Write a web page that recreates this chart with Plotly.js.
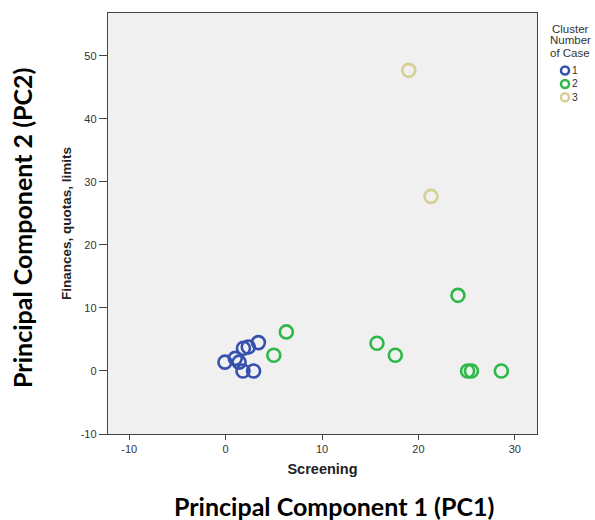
<!DOCTYPE html>
<html>
<head>
<meta charset="utf-8">
<script src="https://cdn.plot.ly/plotly-3.0.1.min.js"></script>
<style>html,body{margin:0;padding:0;background:#fff;}#chart{width:595px;height:520px;}</style>
</head>
<body>
<div id="chart"></div>
<script>
// Cluster 1
var c1x = [-0.07, 1.0, 1.4, 1.8, 2.9, 1.85, 2.35, 3.4];
var c1y = [1.4, 2.0, 1.4, 0.0, 0.0, 3.6, 3.8, 4.5];
// Cluster 2
var c2x = [5.0, 6.3, 15.7, 17.6, 24.1, 25.1, 25.5, 28.6];
var c2y = [2.5, 6.2, 4.4, 2.5, 12.0, 0.0, 0.0, 0.0];
// Cluster 3
var c3x = [19.0, 21.3];
var c3y = [47.7, 27.7];

var names = ['1', '2', '3'];
var legendTitle = ['Cluster', 'Number', 'of Case'];
var colors = ['#3650AE', '#2EB84A', '#D5CF96'];
var xTicks = [-10, 0, 10, 20, 30];
var yTicks = [-10, 0, 10, 20, 30, 40, 50];

var xs = [c1x, c2x, c3x], ys = [c1y, c2y, c3y];
var traces = [];
for (var i = 0; i < 3; i++) {
  traces.push({
    x: xs[i], y: ys[i], name: names[i], type: 'scatter', mode: 'markers', showlegend: false,
    marker: {symbol: 'circle-open', size: 13, color: colors[i], line: {width: 2.6, color: colors[i]}}
  });
}

var font = 'Liberation Sans, Arial, sans-serif';
var annotations = [
  {text: '<b>Principal Component 1 (PC1)</b>', xref: 'paper', yref: 'paper',
   x: 0.527, y: -0.17, xanchor: 'center', yanchor: 'middle', showarrow: false,
   font: {family: 'Lato, sans-serif', size: 25, color: '#000'}},
  {text: '<b>Principal Component 2 (PC2)</b>', xref: 'paper', yref: 'paper',
   x: -0.2, y: 0.49, xanchor: 'center', yanchor: 'middle', showarrow: false, textangle: -90,
   font: {family: 'Lato, sans-serif', size: 25, color: '#000'}}
];
var shapes = [];
// manual legend (title lines, symbols, labels)
var titleY = [0.963, 0.935, 0.906];
for (var t = 0; t < legendTitle.length; t++) {
  annotations.push({text: legendTitle[t], xref: 'paper', yref: 'paper', x: 1.077, y: titleY[t],
    xanchor: 'center', yanchor: 'middle', showarrow: false,
    font: {family: font, size: 11.5, color: '#333'}});
}
var itemY = [0.8634, 0.8314, 0.7998];
for (var k = 0; k < names.length; k++) {
  shapes.push({type: 'circle', xref: 'paper', yref: 'paper', xsizemode: 'pixel', ysizemode: 'pixel',
    xanchor: 1.0653, yanchor: itemY[k], x0: -4, x1: 4, y0: -4, y1: 4,
    line: {color: colors[k], width: 2.5}});
}
annotations.push({text: names.join('<br>'), xref: 'paper', yref: 'paper', x: 1.076, y: itemY[1],
  xanchor: 'left', yanchor: 'middle', align: 'left', showarrow: false,
  font: {family: font, size: 10.3, color: '#333'}});

var layout = {
  width: 595, height: 520,
  margin: {l: 108, r: 58, t: 13, b: 86, autoexpand: false},
  paper_bgcolor: '#ffffff',
  plot_bgcolor: '#f0f0f0',
  showlegend: false,
  xaxis: {
    range: [-12.2, 32.3], tickvals: xTicks, ticktext: xTicks.map(String),
    showgrid: false, zeroline: false,
    showline: true, linecolor: '#444', linewidth: 1.2, mirror: true,
    ticks: 'outside', ticklen: 5, tickcolor: '#444',
    tickfont: {family: font, size: 11, color: '#333'},
    title: {text: '<b>Screening</b>', font: {family: font, size: 14.5, color: '#222'}, standoff: 9}
  },
  yaxis: {
    range: [-10, 56.8], tickvals: yTicks, ticktext: yTicks.map(String),
    showgrid: false, zeroline: false,
    showline: true, linecolor: '#444', linewidth: 1.2, mirror: true,
    ticks: 'outside', ticklen: 8, tickcolor: '#444',
    tickfont: {family: font, size: 11, color: '#333'},
    title: {text: '<b>Finances, quotas, limits</b>', font: {family: font, size: 13.5, color: '#222'}, standoff: 6}
  },
  annotations: annotations,
  shapes: shapes
};

Plotly.newPlot('chart', traces, layout, {displayModeBar: false, staticPlot: true});
</script>
</body>
</html>
